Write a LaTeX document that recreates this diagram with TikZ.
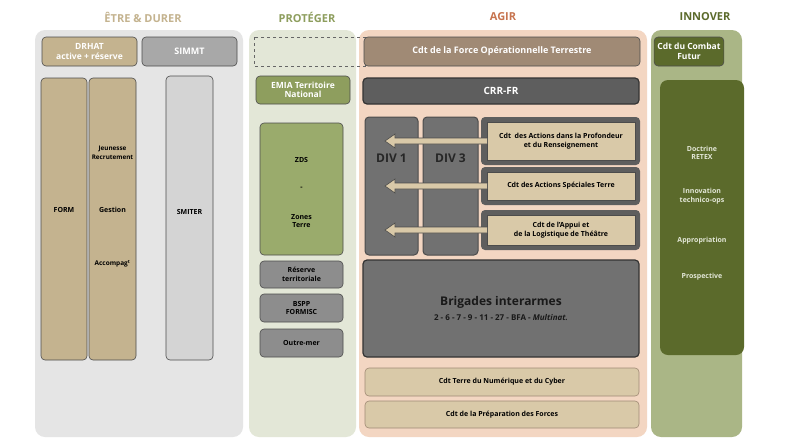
\documentclass[tikz,border=0pt]{standalone}
\usepackage{fontspec}
\setmainfont{Open Sans}
\usetikzlibrary{arrows.meta}
\definecolor{tanc}{HTML}{C4B38F}
\definecolor{tanl}{HTML}{D9C9A8}
\definecolor{greyc}{HTML}{A8A8A8}
\definecolor{dgrey}{HTML}{5E5E5E}
\definecolor{mgrey}{HTML}{717171}
\definecolor{olv}{HTML}{8E9E5E}
\definecolor{olvl}{HTML}{9AAB6C}
\definecolor{dolv}{HTML}{5B6A2B}
\definecolor{brn}{HTML}{A08A75}
\definecolor{peach}{HTML}{F3D6C2}
\definecolor{agir}{HTML}{C7744F}
\tikzset{
 col/.style={rounded corners=10pt,draw=none},
 bx/.style={rounded corners=4pt,draw=black!70,line width=0.6pt},
 ttl/.style={font=\bfseries\fontsize{11}{12}\selectfont},
 sm/.style={font=\fontseries{sb}\fontsize{7}{8.5}\selectfont,align=center},
 arr/.style={draw=black!70,fill=tanl,line width=0.6pt}
}
\begin{document}
\begin{tikzpicture}[x=1pt,y=-1pt]
\useasboundingbox (0,0) rectangle (792,445);
\fill[white] (0,0) rectangle (792,445);
% titles
\node[ttl,text=tanc] (t1) at (143,17) {ÊTRE \& DURER};
\node[ttl,text=olv] (t2) at (307,17) {PROTÉGER};
\node[ttl,text=agir] (t3) at (503,17) {AGIR};
\node[ttl,text=dolv] (t4) at (705,17) {INNOVER};
% columns
\fill[col,fill=black!10] (35,30) rectangle (243,437);
\fill[col,fill=olv!25] (249,30) rectangle (356,437);
\fill[col,fill=peach] (359,30) rectangle (647,437);
\fill[col,fill=olv!75!white] (651,30) rectangle (742,437);
% col1
\node[bx,fill=tanc,minimum width=95,minimum height=29,text=white,font=\bfseries\fontsize{8.5}{10}\selectfont,align=center] (drhat) at (89.5,51.5) {DRHAT\\active + réserve};
\node[bx,fill=greyc,minimum width=95,minimum height=29,text=white,font=\bfseries\fontsize{9}{10}\selectfont] (simmt) at (189.5,51.5) {SIMMT};
\draw[bx,fill=tanc] (41,78) rectangle (87,360);
\node[sm] (form) at (64,210) {FORM};
\draw[bx,fill=tanc] (89,78) rectangle (136,360);
\node[sm,font=\fontseries{sb}\fontsize{6.3}{8.5}\selectfont] (jr) at (112.5,153) {Jeunesse\\Recrutement};
\node[sm] (ge) at (112.5,210) {Gestion};
\node[sm,font=\fontseries{sb}\fontsize{6.5}{8.5}\selectfont] (ac) at (112.5,264) {Accompag\textsuperscript{t}};
\draw[bx,fill=black!17] (166,76) rectangle (213,360);
\node[sm] (smiter) at (189.5,212) {SMITER};
% col2
\draw[dashed,black!60] (254,37) rectangle (365,66);
\node[bx,fill=olv,minimum width=94,minimum height=28,text=white,font=\bfseries\fontsize{8.5}{9.5}\selectfont,align=center] (emia) at (303,90) {EMIA Territoire\\National};
\draw[bx,fill=olvl] (260,123) rectangle (343,255);
\node[sm] (zds) at (301.5,160) {ZDS};
\node[sm] (dash) at (301.5,188) {-};
\node[sm] (zt) at (301.5,221) {Zones\\Terre};
\node[bx,fill=mgrey!80,minimum width=83,minimum height=27,sm] (rt) at (301.5,274.5) {Réserve\\territoriale};
\node[bx,fill=mgrey!80,minimum width=83,minimum height=28,sm] (bspp) at (301.5,308) {BSPP\\FORMISC};
\node[bx,fill=mgrey!80,minimum width=83,minimum height=28,sm] (om) at (301.5,343) {Outre-mer};
% col3
\node[bx,fill=brn,minimum width=276,minimum height=29,text=white,font=\bfseries\fontsize{9}{10}\selectfont] (cfot) at (502,51.5) {Cdt de la Force Opérationnelle Terrestre};
\node[bx,fill=dgrey,line width=1.2pt,draw=black!80,minimum width=276,minimum height=26,text=white,font=\bfseries\fontsize{10}{11}\selectfont] (crr) at (501,91) {CRR-FR};
\draw[bx,fill=mgrey,line width=1pt] (365,117) rectangle (418,255);
\draw[bx,fill=mgrey,line width=1pt] (423,117) rectangle (478,255);
\node[font=\bfseries\fontsize{12}{13}\selectfont,text=black!85] (d1) at (391.5,158) {DIV 1};
\node[font=\bfseries\fontsize{12}{13}\selectfont,text=black!85] (d3) at (450.5,158) {DIV 3};
\foreach \ya/\yb/\yc/\nm in {117/165/141/a,167/205/186/b,210/250/230/c}{
 \fill[rounded corners=4pt,fill=dgrey] (481,\ya) rectangle (640,\yb);
 \draw[fill=tanl,draw=black!70] (487,\ya+5) rectangle (635,\yb-5);
 \coordinate (p\nm) at (487,\yc);
 \coordinate (q\nm) at (385,\yc);
 \draw[arr] (487,\yc-3) -- (395,\yc-3) -- (395,\yc-7) -- (385,\yc) -- (395,\yc+7) -- (395,\yc+3) -- (487,\yc+3);
}
\node[sm] (ta) at (561,141) {Cdt\ \ des Actions dans la Profondeur\\et du Renseignement};
\node[sm] (tb) at (561,186) {Cdt des Actions Spéciales Terre};
\node[sm] (tc) at (561,230) {Cdt de l'Appui et\\de la Logistique de Théâtre};
\draw[bx,fill=mgrey,line width=1.2pt,draw=black!80] (363,260) rectangle (639,357);
\node[font=\bfseries\fontsize{12}{13}\selectfont,text=black!90] (bri) at (501,302) {Brigades interarmes};
\node[font=\bfseries\fontsize{8}{9}\selectfont,text=black!90] (brn) at (501,318) {2 - 6 - 7 - 9 - 11 - 27 - BFA - \textit{Multinat.}};
\node[bx,fill=tanl,minimum width=274,minimum height=28,sm,draw=brn] (num) at (502,382) {Cdt Terre du Numérique et du Cyber};
\node[bx,fill=tanl,minimum width=274,minimum height=27,sm,draw=brn] (prep) at (502,414.5) {Cdt de la Préparation des Forces};
% col4
\node[bx,fill=dolv,minimum width=66,minimum height=29,text=white,font=\bfseries\fontsize{8.5}{10}\selectfont,align=center] (ccf) at (689,51.5) {Cdt du Combat\\Futur};
\fill[rounded corners=8pt,fill=dolv] (660,80) rectangle (744,355);
\node[sm,text=white!75!olv] (doc) at (702,153) {Doctrine\\RETEX};
\node[sm,text=white!75!olv] (inv) at (702,196) {Innovation\\technico-ops};
\node[sm,text=white!75!olv] (app) at (702,241) {Appropriation};
\node[sm,text=white!75!olv] (pro) at (702,277) {Prospective};
\end{tikzpicture}
\end{document}
